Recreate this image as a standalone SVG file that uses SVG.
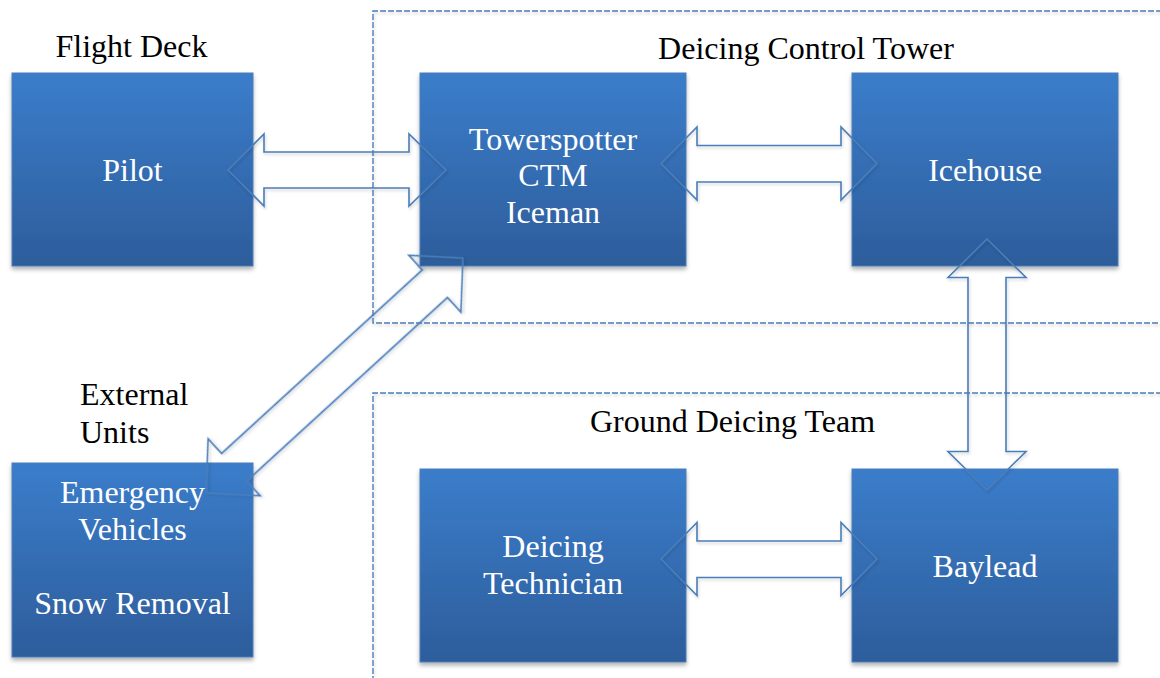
<svg xmlns="http://www.w3.org/2000/svg" width="1160" height="678" viewBox="0 0 1160 678">
<style>
.box{fill:url(#bg);stroke:#4a7ebb;stroke-width:1;filter:url(#sh)}
.wt{fill:#fff;font-family:"Liberation Serif","Times New Roman",serif;font-size:32px;text-anchor:middle}
.bt{fill:#000;font-family:"Liberation Serif","Times New Roman",serif;font-size:32px}
.dash{fill:none;stroke:#4a7ebb;stroke-width:1.4;stroke-dasharray:6,2;filter:url(#sh2)}
.arr{fill:none;stroke:#4a7ebb;stroke-width:1.6;stroke-linejoin:miter;filter:url(#sh2)}
</style>
<defs>
<linearGradient id="bg" x1="0" y1="0" x2="0" y2="1">
<stop offset="0" stop-color="#3b7dcb"/>
<stop offset="1" stop-color="#2d5d9b"/>
</linearGradient>
<filter id="sh" x="-10%" y="-10%" width="120%" height="125%">
<feDropShadow dx="0" dy="3" stdDeviation="2" flood-color="#000" flood-opacity="0.3"/>
</filter>
<filter id="sh2" x="-10%" y="-10%" width="120%" height="125%">
<feDropShadow dx="1" dy="2" stdDeviation="1.5" flood-color="#000" flood-opacity="0.18"/>
</filter>
</defs>
<rect width="1160" height="678" fill="#fff"/>
<g id="regions">
<path class="dash" d="M1170,11 L373,11 L373,323 L1170,323"/>
<path class="dash" d="M1170,393 L373,393 L373,690"/>
</g>
<g id="labels">
<text class="bt" x="131.5" y="57" text-anchor="middle">Flight Deck</text>
<text class="bt" x="806" y="59" text-anchor="middle">Deicing Control Tower</text>
<text class="bt" x="80" y="405">External</text>
<text class="bt" x="80" y="443">Units</text>
<text class="bt" x="732.5" y="432" text-anchor="middle">Ground Deicing Team</text>
</g>
<g id="pilot">
<rect class="box" x="12" y="73" width="241" height="193"/>
<text class="wt" x="132.5" y="181">Pilot</text>
</g>
<g id="towerspotter">
<rect class="box" x="420" y="73" width="266" height="193"/>
<text class="wt" x="553" y="150">Towerspotter</text>
<text class="wt" x="553" y="186">CTM</text>
<text class="wt" x="553" y="223">Iceman</text>
</g>
<g id="icehouse">
<rect class="box" x="852" y="73" width="266" height="193"/>
<text class="wt" x="985" y="181">Icehouse</text>
</g>
<g id="emergency">
<rect class="box" x="12" y="463" width="241" height="194"/>
<text class="wt" x="132.5" y="503">Emergency</text>
<text class="wt" x="132.5" y="540">Vehicles</text>
<text class="wt" x="132.5" y="614">Snow Removal</text>
</g>
<g id="technician">
<rect class="box" x="420" y="469" width="266" height="193"/>
<text class="wt" x="553" y="557">Deicing</text>
<text class="wt" x="553" y="594">Technician</text>
</g>
<g id="baylead">
<rect class="box" x="852" y="469" width="266" height="193"/>
<text class="wt" x="985" y="577">Baylead</text>
</g>
<g id="connectors">
<path class="arr" d="M228,170 L264,134 L264,152 L409,152 L409,134 L446,170 L409,206 L409,188 L264,188 L264,206 Z"/>
<path class="arr" d="M661,163.5 L697,127 L697,145.5 L841,145.5 L841,127 L877,163.5 L841,200 L841,182 L697,182 L697,200 Z"/>
<path class="arr" d="M661,559 L697,522.5 L697,541 L841,541 L841,522.5 L877,559 L841,595.5 L841,577.5 L697,577.5 L697,595.5 Z"/>
<path class="arr" d="M987,239 L1026,277.5 L1006,277.5 L1006,451.5 L1026,451.5 L987,490 L948,451.5 L968,451.5 L968,277.5 L948,277.5 Z"/>
<path class="arr" transform="translate(334.5,375.5) rotate(-42.44)" d="M-174,0 L-136,-38.5 L-136,-18.6 L136,-18.6 L136,-38.5 L174,0 L136,38.5 L136,18.6 L-136,18.6 L-136,38.5 Z"/>
</g>
</svg>
